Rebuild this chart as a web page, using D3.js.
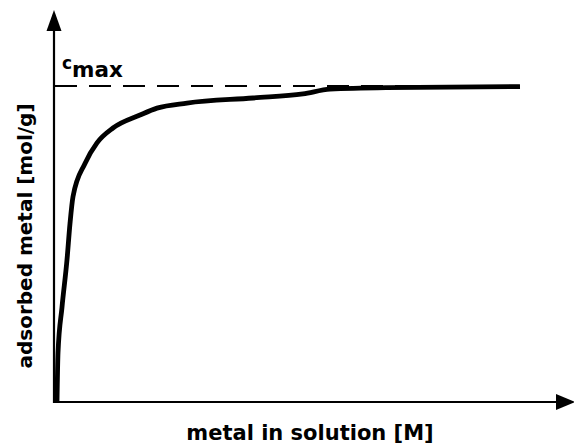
<!DOCTYPE html>
<html>
<head>
<meta charset="utf-8">
<script src="https://cdn.jsdelivr.net/npm/d3@7"></script>
<style>
  html, body { margin: 0; padding: 0; background: #fff; }
  svg { display: block; }
  text { font-family: "DejaVu Sans", "Liberation Sans", sans-serif; font-weight: bold; fill: #000; }
</style>
</head>
<body>
<div id="chart"></div>
<script>
// isotherm: x = metal in solution (fraction of axis), y = adsorbed / cmax
const xValues = [0.004, 0.006, 0.014, 0.024, 0.030, 0.036, 0.060, 0.084, 0.116, 0.170, 0.204, 0.264, 0.396, 0.496, 0.550, 0.664, 0.930];
const yValues = [0.000, 0.155, 0.300, 0.450, 0.565, 0.650, 0.755, 0.820, 0.867, 0.908, 0.930, 0.946, 0.962, 0.975, 0.990, 0.995, 0.998];
const cmax = [1];
const xTitle = ["metal in solution [M]"];
const yTitle = ["adsorbed metal [mol/g]"];

const W = 574, H = 445;
const svg = d3.select("#chart").append("svg").attr("width", W).attr("height", H);

const x = d3.scaleLinear().domain([0, 1]).range([55, 555]);
const y = d3.scaleLinear().domain([0, 1]).range([402, 86]);
const x0 = x.range()[0] - 1, y0 = y.range()[0];

// axes with arrowheads
svg.append("line").attr("x1", x0).attr("y1", y0 + 1).attr("x2", x0).attr("y2", 26)
  .attr("stroke", "#000").attr("stroke-width", 2.2);
svg.append("path").attr("d", `M${x0},10 L${x0 - 7.5},31 L${x0 + 7.5},31 Z`).attr("fill", "#000");
svg.append("line").attr("x1", x0 - 1).attr("y1", y0).attr("x2", 560).attr("y2", y0)
  .attr("stroke", "#000").attr("stroke-width", 2.2);
svg.append("path").attr("d", `M575,${y0} L556,${y0 - 8} L556,${y0 + 8} Z`).attr("fill", "#000");

// cmax dashed line
svg.append("line").datum(cmax[0])
  .attr("x1", x0 + 1).attr("x2", x(0.93))
  .attr("y1", d => y(d)).attr("y2", d => y(d))
  .attr("stroke", "#000").attr("stroke-width", 2.2).attr("stroke-dasharray", "22,12");

// curve
const pts = xValues.map((v, i) => [v, yValues[i]]);
svg.append("path").datum(pts)
  .attr("d", d3.line().x(d => x(d[0])).y(d => y(d[1])).curve(d3.curveMonotoneX))
  .attr("fill", "none").attr("stroke", "#000").attr("stroke-width", 4.8)
  .attr("stroke-linejoin", "round").attr("stroke-linecap", "butt");

// cmax label
const lab = svg.append("text").attr("x", 62).attr("y", 69);
lab.append("tspan").attr("font-size", 17).text("c");
lab.append("tspan").attr("font-size", 21.5).attr("dy", 8).text("max");

// axis titles
svg.append("text").attr("x", 310).attr("y", 440).attr("text-anchor", "middle")
  .attr("font-size", 21).text(xTitle[0]);
svg.append("text").attr("transform", "translate(32,236) rotate(-90)").attr("text-anchor", "middle")
  .attr("font-size", 20).text(yTitle[0]);
</script>
</body>
</html>
